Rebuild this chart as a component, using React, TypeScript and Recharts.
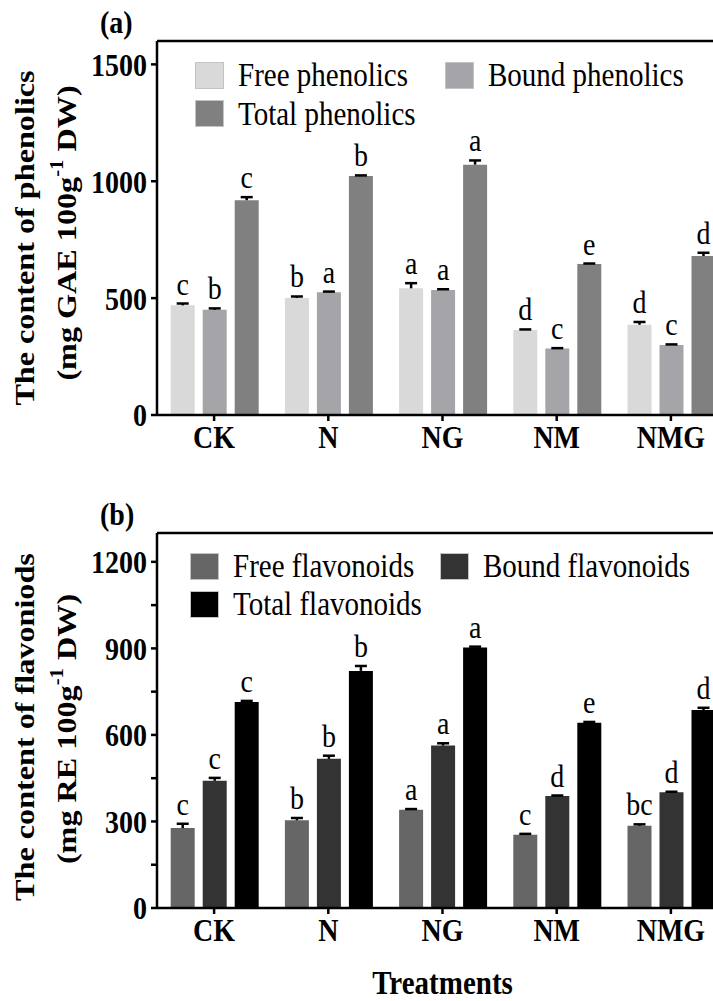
import { BarChart, Bar, XAxis, YAxis, LabelList, ReferenceLine } from 'recharts';

const treatments = ['CK', 'N', 'NG', 'NM', 'NMG'];

// panel (a) phenolics
const freePhenolics = [469, 501, 542, 364, 386];
const freePhenolicsErr = [8, 6, 22, 2, 12];
const freePhenolicsSig = ['c', 'b', 'a', 'd', 'd'];
const boundPhenolics = [450, 525, 535, 284, 300];
const boundPhenolicsErr = [6, 3, 3, 2, 2];
const boundPhenolicsSig = ['b', 'a', 'a', 'c', 'c'];
const totalPhenolics = [919, 1022, 1071, 646, 680];
const totalPhenolicsErr = [13, 3, 18, 2, 14];
const totalPhenolicsSig = ['c', 'b', 'a', 'e', 'd'];
const phenolicTicks = [0, 500, 1000, 1500];

// panel (b) flavonoids
const freeFlavonoids = [277, 304, 341, 254, 285];
const freeFlavonoidsErr = [15, 8, 2, 3, 5];
const freeFlavonoidsSig = ['c', 'b', 'a', 'c', 'bc'];
const boundFlavonoids = [441, 517, 563, 388, 401];
const boundFlavonoidsErr = [10, 11, 8, 2, 2];
const boundFlavonoidsSig = ['c', 'b', 'a', 'd', 'd'];
const totalFlavonoids = [714, 822, 903, 642, 686];
const totalFlavonoidsErr = [4, 17, 3, 3, 8];
const totalFlavonoidsSig = ['c', 'b', 'a', 'e', 'd'];
const flavonoidTicks = [0, 150, 300, 450, 600, 750, 900, 1050, 1200];

const phenolicNames = ['Free phenolics', 'Bound phenolics', 'Total phenolics'];
const phenolicColors = ['#d9d9d9', '#a5a5a9', '#808080'];
const flavonoidNames = ['Free flavonoids', 'Bound flavonoids', 'Total flavonoids'];
const flavonoidColors = ['#666666', '#333333', '#000000'];

const SERIF = '"Liberation Serif", "Times New Roman", serif';
const STRETCH = 1.15; // the source figure is a bit taller than wide

const buildRows = (vals: number[][], sigs: string[][]) =>
  treatments.map((name, i) => ({
    name,
    free: vals[0][i], freeSig: sigs[0][i],
    bound: vals[1][i], boundSig: sigs[1][i],
    total: vals[2][i], totalSig: sigs[2][i],
  }));

const phenolicRows = buildRows(
  [freePhenolics, boundPhenolics, totalPhenolics],
  [freePhenolicsSig, boundPhenolicsSig, totalPhenolicsSig]
);
const flavonoidRows = buildRows(
  [freeFlavonoids, boundFlavonoids, totalFlavonoids],
  [freeFlavonoidsSig, boundFlavonoidsSig, totalFlavonoidsSig]
);

// upper error bar + letter, px per unit taken from the bar itself
const sigLabel = (vals: number[], errs: number[]) => (props: any) => {
  const vb = props.viewBox || {};
  const x = props.x ?? vb.x;
  const y = props.y ?? vb.y;
  const width = props.width ?? vb.width;
  const height = Math.abs(props.height ?? vb.height);
  const i = props.index;
  const pxPerUnit = height / vals[i];
  const errTop = y - errs[i] * pxPerUnit;
  const cx = x + width / 2;
  return (
    <g>
      <line x1={cx} x2={cx} y1={y} y2={errTop} stroke="#000" strokeWidth={2.5} />
      <line x1={cx - 6} x2={cx + 6} y1={errTop} y2={errTop} stroke="#000" strokeWidth={2.5} />
      <text
        transform={`translate(${cx}, ${errTop - 9}) scale(1, ${STRETCH})`}
        textAnchor="middle"
        fontFamily={SERIF}
        fontSize={28}
        fill="#000"
      >
        {props.value}
      </text>
    </g>
  );
};

const axisStroke = { stroke: '#000', strokeWidth: 2.5 };
const boldFont = { fontFamily: SERIF, fontSize: 28, fontWeight: 'bold', fill: '#000' };

const Legend2 = ({ names, colors, left, top }: { names: string[]; colors: string[]; left: number; top: number }) => (
  <div style={{ position: 'absolute', left, top, width: 500, fontFamily: SERIF, fontSize: 29, color: '#000' }}>
    {names.map((n, i) => (
      <div
        key={n}
        style={{
          position: 'absolute',
          left: (i % 2) * 250,
          top: Math.floor(i / 2) * 38,
          display: 'flex',
          alignItems: 'center',
          height: 26,
          whiteSpace: 'nowrap',
        }}
      >
        <div style={{ width: 27, height: 25, background: colors[i], border: '1px solid #c4c4c4', marginRight: 14 }} />
        <span style={{ lineHeight: '26px', display: 'inline-block', transform: `scaleY(${STRETCH})` }}>{n}</span>
      </div>
    ))}
  </div>
);

const Panel = ({
  rows, names, colors, vals, errs, max, ticks, step, height, marginTop,
  tag, title1, title2, title1Y, title2Y, showXTitle,
}: any) => {
  const yTick = (p: any) => {
    const v = p.payload.value;
    if (v % step !== 0) return <g />;
    return (
      <text transform={`translate(${p.x}, ${p.y}) scale(1, ${STRETCH})`} dy="0.355em" textAnchor="end" {...boldFont}>
        {v}
      </text>
    );
  };
  const xTick = (p: any) => (
    <text transform={`translate(${p.x}, ${p.y + 21}) scale(1, ${STRETCH})`} textAnchor="middle" {...boldFont}>
      {p.payload.value}
    </text>
  );
  return (
    <BarChart
      width={740}
      height={height}
      data={rows}
      margin={{ top: marginTop, right: 12, left: 77, bottom: showXTitle ? 53 : 25 }}
      barCategoryGap="12%"
      barGap={8}
    >
      <XAxis
        dataKey="name"
        axisLine={axisStroke}
        tickLine={axisStroke}
        tickSize={6}
        tickMargin={6}
        height={40}
        interval={0}
        tick={xTick}
        label={
          showXTitle
            ? {
                content: (lp: any) => (
                  <text
                    transform={`translate(${lp.viewBox.x + lp.viewBox.width / 2}, ${lp.viewBox.y + 86}) scale(1, ${STRETCH})`}
                    textAnchor="middle"
                    {...boldFont}
                    fontSize={29}
                  >
                    Treatments
                  </text>
                ),
              }
            : undefined
        }
      />
      <YAxis
        width={80}
        domain={[0, max]}
        ticks={ticks}
        interval={0}
        axisLine={axisStroke}
        tickLine={axisStroke}
        tickSize={6}
        tickMargin={4}
        tick={yTick}
        label={{
          content: () => (
            <g fontFamily={SERIF} fontWeight="bold" fill="#000" fontSize={28}>
              <text transform={`translate(100, ${marginTop - 8}) scale(1, ${STRETCH})`}>{tag}</text>
              <text
                transform={`translate(25, ${title1Y}) rotate(-90) scale(${STRETCH}, 1)`}
                textAnchor="middle"
                dominantBaseline="central"
              >
                {title1}
              </text>
              <text
                transform={`translate(67, ${title2Y}) rotate(-90) scale(${STRETCH}, 1)`}
                textAnchor="middle"
                dominantBaseline="central"
              >
                {title2}
                <tspan fontSize={18} dy={-11}>-1</tspan>
                <tspan dy={11}> DW)</tspan>
              </text>
            </g>
          ),
        }}
      />
      <ReferenceLine y={max} stroke="#000" strokeWidth={2.5} />
      {['free', 'bound', 'total'].map((k, s) => (
        <Bar key={k} dataKey={k} name={names[s]} fill={colors[s]} isAnimationActive={false}>
          <LabelList dataKey={`${k}Sig`} content={sigLabel(vals[s], errs[s])} />
        </Bar>
      ))}
    </BarChart>
  );
};

export default function App() {
  return (
    <div style={{ position: 'absolute', left: 0, top: 0, width: 713, height: 1001, overflow: 'hidden', background: '#fff' }}>
      <div style={{ position: 'absolute', left: 0, top: 0 }}>
        <Panel
          rows={phenolicRows}
          names={phenolicNames}
          colors={phenolicColors}
          vals={[freePhenolics, boundPhenolics, totalPhenolics]}
          errs={[freePhenolicsErr, boundPhenolicsErr, totalPhenolicsErr]}
          max={1600}
          ticks={phenolicTicks}
          step={500}
          height={480}
          marginTop={41}
          tag="(a)"
          title1="The content of phenolics"
          title2="(mg GAE 100g"
          title1Y={238}
          title2Y={233}
          showXTitle={false}
        />
      </div>
      <Legend2 names={phenolicNames} colors={phenolicColors} left={195} top={62} />
      <div style={{ position: 'absolute', left: 0, top: 490 }}>
        <Panel
          rows={flavonoidRows}
          names={flavonoidNames}
          colors={flavonoidColors}
          vals={[freeFlavonoids, boundFlavonoids, totalFlavonoids]}
          errs={[freeFlavonoidsErr, boundFlavonoidsErr, totalFlavonoidsErr]}
          max={1300}
          ticks={flavonoidTicks}
          step={300}
          height={511}
          marginTop={43}
          tag="(b)"
          title1="The content of flavoniods"
          title2="(mg RE 100g"
          title1Y={237}
          title2Y={239}
          showXTitle={true}
        />
      </div>
      <Legend2 names={flavonoidNames} colors={flavonoidColors} left={190} top={553} />
    </div>
  );
}
